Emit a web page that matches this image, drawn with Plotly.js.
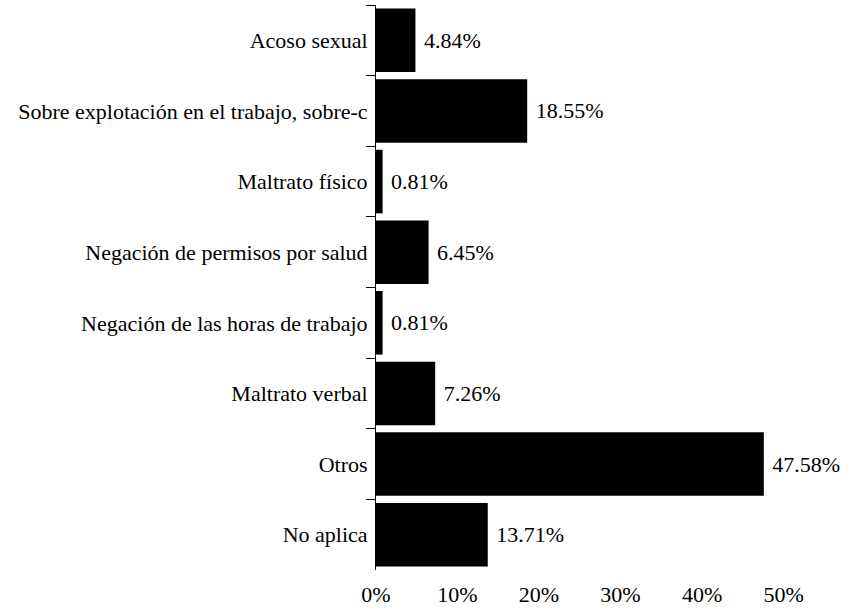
<!DOCTYPE html>
<html>
<head>
<meta charset="utf-8">
<script src="https://cdn.plot.ly/plotly-3.0.1.min.js"></script>
<style>html,body{margin:0;padding:0;background:#fff;}#chart{width:849px;height:609px;}</style>
</head>
<body>
<div id="chart"></div>
<script>
const categories = [
  "Acoso sexual",
  "Sobre explotación en el trabajo, sobre-c",
  "Maltrato físico",
  "Negación de permisos por salud",
  "Negación de las horas de trabajo",
  "Maltrato verbal",
  "Otros",
  "No aplica"
];
const values = [4.84, 18.55, 0.81, 6.45, 0.81, 7.26, 47.58, 13.71];
const xTickValues = [0, 10, 20, 30, 40, 50];
const xTickLabels = ["0%", "10%", "20%", "30%", "40%", "50%"];

const FONT = "Liberation Serif";

const trace = {
  type: "bar",
  orientation: "h",
  y: categories,
  x: values,
  marker: {color: "#000000", line: {width: 0}},
  text: values.map(v => "\u00a0" + v.toFixed(2) + "%"),
  textposition: "outside",
  textfont: {family: FONT, size: 22, color: "#000"},
  cliponaxis: false,
  hoverinfo: "none"
};

const layout = {
  width: 849,
  height: 609,
  margin: {l: 376, r: 41, t: 5, b: 39, pad: 0},
  paper_bgcolor: "#fff",
  plot_bgcolor: "#fff",
  showlegend: false,
  bargap: 0.1,
  xaxis: {
    range: [0, 53],
    tickvals: xTickValues,
    ticktext: xTickLabels,
    showgrid: false,
    zeroline: false,
    showline: false,
    ticks: "",
    ticklabelstandoff: 9,
    tickfont: {family: FONT, size: 22, color: "#000"}
  },
  yaxis: {
    type: "category",
    autorange: "reversed",
    showgrid: false,
    zeroline: false,
    showline: true,
    linecolor: "#000",
    linewidth: 1,
    ticks: "outside",
    tickson: "boundaries",
    ticklen: 9,
    tickcolor: "#000",
    tickwidth: 1,
    ticklabelstandoff: 3,
    tickfont: {family: FONT, size: 22, color: "#000"}
  }
};

Plotly.newPlot("chart", [trace], layout, {displayModeBar: false, staticPlot: true});
</script>
</body>
</html>
